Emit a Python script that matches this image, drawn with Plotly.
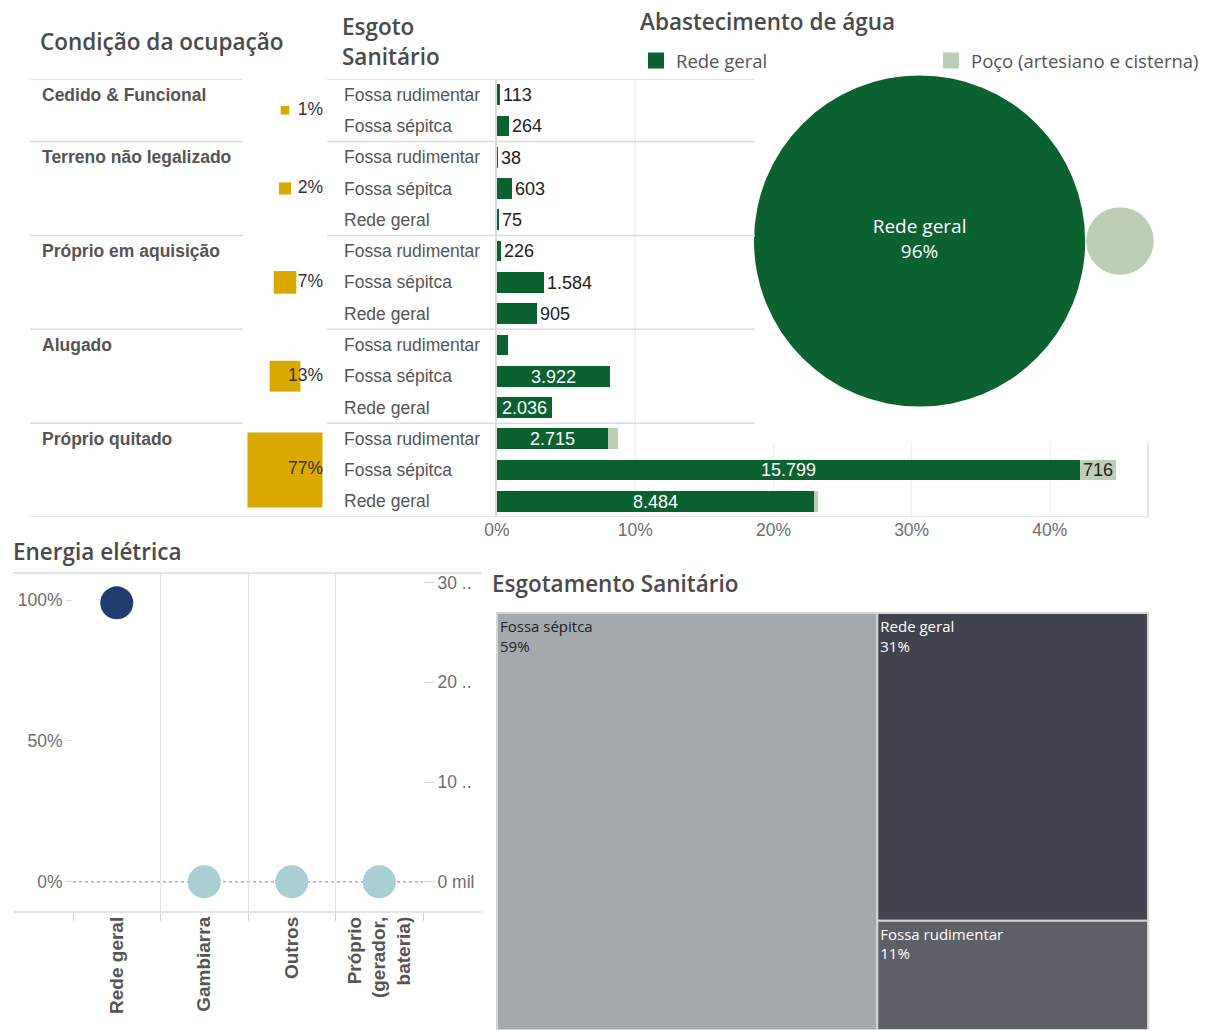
import numpy as np
import plotly.graph_objects as go

W, H = 1211, 1030


def px(x):
    return x / W


def py(y):
    return 1 - y / H


# ---- dados ----
conditions = ["Cedido & Funcional", "Terreno não legalizado", "Próprio em aquisição",
              "Alugado", "Próprio quitado"]
condition_pct = [1, 2, 7, 13, 77]
sewage_by_condition = [
    ["Fossa rudimentar", "Fossa sépitca"],
    ["Fossa rudimentar", "Fossa sépitca", "Rede geral"],
    ["Fossa rudimentar", "Fossa sépitca", "Rede geral"],
    ["Fossa rudimentar", "Fossa sépitca", "Rede geral"],
    ["Fossa rudimentar", "Fossa sépitca", "Rede geral"],
]
# % do total de domicílios (abastecimento: rede geral / poço)
rede_pct = [0.25, 0.87, 0.05, 1.1, 0.15, 0.3, 3.4, 2.9, 0.8, 8.2, 4.0, 8.0, 42.2, 22.9]
rede_count = ["113", "264", "38", "603", "75", "226", "1.584", "905", "", "3.922", "2.036",
              "2.715", "15.799", "8.484"]
poco_pct = [0, 0, 0, 0, 0, 0, 0, 0, 0, 0, 0, 0.75, 2.55, 0.3]
poco_count = ["", "", "", "", "", "", "", "", "", "", "", "", "716", ""]
bar_ticks = [0, 10, 20, 30, 40]

water_labels = ["Rede geral", "Poço (artesiano e cisterna)"]
water_pct = [96, 4]

energy_labels = ["Rede geral", "Gambiarra", "Outros", "Próprio<br>(gerador,<br>bateria)"]
energy_pct = [99, 0, 0, 0]
energy_ticks = [0, 50, 100]
energy_count_ticks = [0, 10, 20, 30]
energy_count_text = ["0 mil", "10 ..", "20 ..", "30 .."]

sewer_labels = ["Fossa sépitca", "Rede geral", "Fossa rudimentar"]
sewer_pct = [59, 31, 11]

# ---- estilo ----
DARK_GREEN = "#0b6130"
LIGHT_GREEN = "#bccfb6"
GOLD = "#dba800"
NAVY = "#1e3f6d"
LIGHT_BLUE = "#a9cfd5"
LINE = "#dcdcdc"
TXT = "#555555"
SANS = "Liberation Sans, Arial, sans-serif"
TITLE = "Open Sans, sans-serif"
TREE_COLORS = {"Fossa sépitca": "#a3a9ad", "Rede geral": "#41434f", "Fossa rudimentar": "#5e6067"}

sub_labels = [s for grp in sewage_by_condition for s in grp]
rows = list(range(len(sub_labels)))
group_start = np.cumsum([0] + [len(g) for g in sewage_by_condition])
group_center = [(group_start[i] + group_start[i + 1] - 1) / 2 for i in range(len(conditions))]

XMAX = 47.1
BAR_L, BAR_R = 497, 1148

fig = go.Figure()

# barras empilhadas: esgoto x abastecimento
fig.add_trace(go.Bar(
    y=rows, x=rede_pct, orientation="h", name=water_labels[0],
    marker=dict(color=DARK_GREEN, line=dict(width=0)), width=0.66,
    text=rede_count,
    textposition=["inside" if v >= 3.8 else "outside" for v in rede_pct],
    insidetextanchor="middle", constraintext="none", cliponaxis=False,
    insidetextfont=dict(family=SANS, size=18, color="white"),
    outsidetextfont=dict(family=SANS, size=18, color="#222"),
    xaxis="x", yaxis="y", showlegend=False,
))
fig.add_trace(go.Bar(
    y=rows, x=poco_pct, orientation="h", name=water_labels[1],
    marker=dict(color=LIGHT_GREEN, line=dict(width=0)), width=0.66,
    text=poco_count, textposition="inside", insidetextanchor="middle", constraintext="none",
    insidetextfont=dict(family=SANS, size=18, color="#222"),
    xaxis="x", yaxis="y", showlegend=False,
))
# legenda (quadrados maiores que o ícone de barra)
for name, col in zip(water_labels, [DARK_GREEN, LIGHT_GREEN]):
    fig.add_trace(go.Scatter(x=[None], y=[None], mode="markers", name=name,
                             marker=dict(symbol="square", size=16, color=col),
                             xaxis="x3", yaxis="y3"))

# quadrados de condição da ocupação
fig.add_trace(go.Scatter(
    x=[45] * len(conditions), y=group_center, mode="markers",
    marker=dict(symbol="square", color=GOLD, size=[8.55 * np.sqrt(v) for v in condition_pct],
                line=dict(width=0), opacity=1),
    xaxis="x2", yaxis="y", showlegend=False,
))
fig.add_trace(go.Scatter(
    x=[83] * len(conditions), y=group_center, mode="text",
    text=[f"{v}%" for v in condition_pct], textposition="middle left",
    textfont=dict(family=SANS, size=17.5, color="#333"),
    xaxis="x2", yaxis="y", showlegend=False,
))

# bolhas do abastecimento de água
d = [33.8 * np.sqrt(v) for v in water_pct]
cx1 = 14 + d[0] / 2
cx2 = cx1 + d[0] / 2 + d[1] / 2 + 1
fig.add_trace(go.Scatter(
    x=[cx1, cx2], y=[179, 179], mode="markers+text",
    marker=dict(size=d, color=[DARK_GREEN, LIGHT_GREEN], line=dict(width=0), opacity=1),
    text=[f"{water_labels[0]}<br>{water_pct[0]}%", ""], textposition="middle center",
    textfont=dict(family=TITLE, size=19, color="white"),
    xaxis="x3", yaxis="y3", showlegend=False,
))

# energia elétrica
fig.add_trace(go.Scatter(
    x=list(range(len(energy_labels))), y=energy_pct, mode="markers",
    marker=dict(size=33, color=[NAVY if v == max(energy_pct) else LIGHT_BLUE for v in energy_pct],
                line=dict(width=0), opacity=1),
    xaxis="x4", yaxis="y4", showlegend=False, cliponaxis=False,
))
fig.add_trace(go.Scatter(x=[None], y=[None], xaxis="x4", yaxis="y5", showlegend=False,
                         hoverinfo="skip"))

# treemap esgotamento sanitário
fig.add_trace(go.Treemap(
    labels=sewer_labels, parents=[""] * len(sewer_labels), values=sewer_pct,
    texttemplate="%{label}<br>%{value}%", textposition="top left",
    marker=dict(colors=[TREE_COLORS[s] for s in sewer_labels], line=dict(width=2, color="#d4d4d4"),
                pad=dict(t=0, l=0, r=0, b=0)),
    textfont=dict(family=TITLE, size=15,
                  color=["#222" if s == "Fossa sépitca" else "white" for s in sewer_labels]),
    tiling=dict(pad=0), pathbar=dict(visible=False), sort=True,
    domain=dict(x=[px(BAR_L), px(BAR_R)], y=[0, py(613)]),
))

# ---- anotações ----
ann = []
for i, c in enumerate(conditions):
    ann.append(dict(x=px(40), xref="paper", y=group_start[i], yref="y", text=c, showarrow=False,
                    xanchor="left", yanchor="middle",
                    font=dict(family=SANS, size=17.5, color=TXT, weight="bold")))
for r, s in zip(rows, sub_labels):
    ann.append(dict(x=px(342), xref="paper", y=r, yref="y", text=s, showarrow=False,
                    xanchor="left", yanchor="middle", font=dict(family=SANS, size=17.5, color=TXT)))

titles = [
    ("Condição da ocupação", 38, 42),
    ("Esgoto", 340, 26),
    ("Sanitário", 340, 57),
    ("Abastecimento de água", 638, 22),
    ("Energia elétrica", 11, 551),
    ("Esgotamento Sanitário", 490, 583),
]
for t, x, y in titles:
    ann.append(dict(x=px(x), y=py(y), xref="paper", yref="paper", text=t, showarrow=False,
                    xanchor="left", yanchor="middle",
                    font=dict(family=TITLE, size=22.5, color="#4a4a4a", weight=600)))

# ---- linhas ----
shapes = []
for k, b in enumerate(group_start):
    yb = b - 0.5
    shapes.append(dict(type="line", xref="paper", yref="y", x0=px(30), x1=px(243), y0=yb, y1=yb,
                       line=dict(color=LINE, width=1.5)))
    if k == len(group_start) - 1:
        shapes.append(dict(type="line", xref="paper", yref="y", x0=px(243), x1=px(BAR_R), y0=yb,
                           y1=yb, line=dict(color=LINE, width=1.5)))
    else:
        shapes.append(dict(type="line", xref="paper", yref="y", x0=px(327), x1=px(755), y0=yb,
                           y1=yb, line=dict(color=LINE, width=1.5)))
for v in bar_ticks[1:]:
    xpix = BAR_L + v * (BAR_R - BAR_L) / XMAX
    top = 79 if xpix < 755 else 442
    shapes.append(dict(type="line", xref="x", yref="paper", x0=v, x1=v, y0=py(517), y1=py(top),
                       line=dict(color="#ececec", width=1), layer="below"))
shapes.append(dict(type="line", xref="paper", yref="paper", x0=px(BAR_R), x1=px(BAR_R),
                   y0=py(517), y1=py(442), line=dict(color=LINE, width=1.5)))
for yl in (573, 912):
    shapes.append(dict(type="line", xref="paper", yref="paper", x0=px(13), x1=px(482),
                       y0=py(yl), y1=py(yl), line=dict(color=LINE, width=1.5)))
shapes.append(dict(type="line", xref="x4 domain", yref="y4", x0=0, x1=1, y0=0, y1=0,
                   line=dict(color="#8a8a8a", width=1, dash="dot"), layer="below"))

axis_font = dict(family=SANS, size=17.5, color="#6e6e6e")

fig.update_layout(
    width=W, height=H, margin=dict(l=0, r=0, t=0, b=0, autoexpand=False),
    paper_bgcolor="white", plot_bgcolor="rgba(0,0,0,0)",
    barmode="stack", bargap=0, hovermode=False,
    annotations=ann, shapes=shapes,
    legend=dict(orientation="h", x=px(636), y=py(42), xanchor="left", yanchor="top",
                entrywidth=250, entrywidthmode="pixels", traceorder="normal", itemsizing="trace",
                font=dict(family=TITLE, size=18.5, color=TXT), bgcolor="rgba(0,0,0,0)"),
    xaxis=dict(domain=[px(BAR_L), px(BAR_R)], range=[0, XMAX], anchor="y", showgrid=False,
               zeroline=False, showline=False, tickvals=bar_ticks,
               ticktext=[f"{v}%" for v in bar_ticks], ticks="", tickfont=axis_font),
    yaxis=dict(domain=[py(517), py(79)], range=[len(rows) - 0.5, -0.5], anchor="x",
               showgrid=False, zeroline=False, showticklabels=False, showline=True,
               linecolor=LINE, linewidth=1.5, ticks=""),
    xaxis2=dict(domain=[px(240), px(330)], range=[0, 90], anchor="y", visible=False),
    xaxis3=dict(domain=[px(740), px(1180)], range=[0, 440], anchor="y3", visible=False),
    yaxis3=dict(domain=[py(420), py(60)], range=[0, 360], anchor="x3", visible=False),
    xaxis4=dict(domain=[px(73), px(423)], range=[-0.5, len(energy_labels) - 0.5], anchor="y4",
                tickvals=list(range(len(energy_labels))), ticktext=energy_labels, tickangle=-90,
                showgrid=False, zeroline=False, showline=False, ticks="",
                tickfont=dict(family=SANS, size=19, color=TXT, weight="bold"),
                minor=dict(tickvals=[i - 0.5 for i in range(len(energy_labels) + 1)], showgrid=True,
                           gridcolor="#e4e4e4", gridwidth=1, ticks="outside", ticklen=8,
                           tickcolor="#cfcfcf")),
    yaxis4=dict(domain=[py(912), py(573)], range=[-10.7, 109.6], anchor="x4",
                tickvals=energy_ticks, ticktext=[f"{v}%" for v in energy_ticks],
                showgrid=False, zeroline=False, showline=False, ticks="outside", ticklen=6,
                tickcolor="#d6d6d6", tickfont=axis_font),
    yaxis5=dict(overlaying="y4", side="right", anchor="x4", range=[-3.02, 30.95],
                tickvals=energy_count_ticks, ticktext=energy_count_text,
                showgrid=False, zeroline=False, showline=False, ticks="outside", ticklen=10,
                tickcolor="#d6d6d6", tickfont=axis_font),
)

fig.write_html("out.html", config={"displayModeBar": False},
               post_script="document.body.style.margin = '0';")
